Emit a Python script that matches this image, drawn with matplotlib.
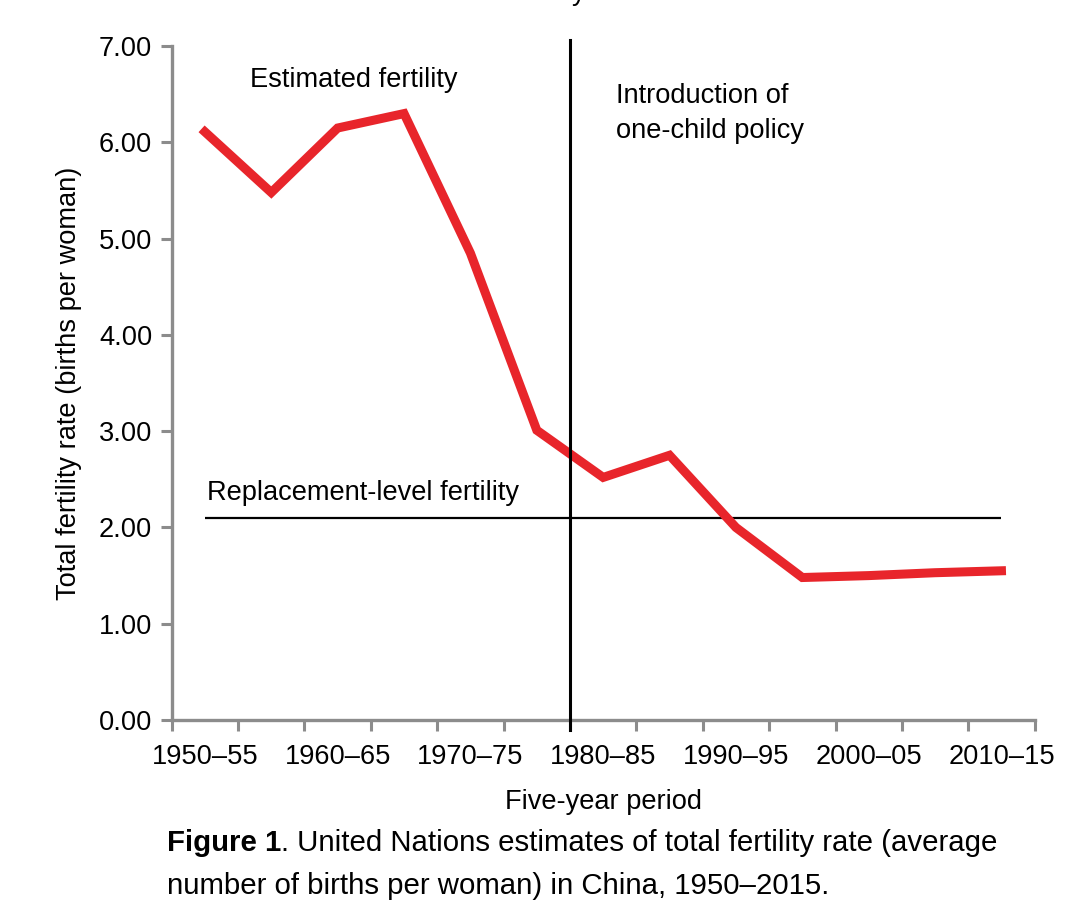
import matplotlib
matplotlib.use("Agg")
import matplotlib.pyplot as plt

plt.rcParams['font.family'] = ['Liberation Sans', 'DejaVu Sans']

# five-year periods and UN total fertility rate estimates
periods = ["1950–55", "1955–60", "1960–65", "1965–70", "1970–75", "1975–80",
           "1980–85", "1985–90", "1990–95", "1995–00", "2000–05", "2005–10", "2010–15"]
tfr = [6.11, 5.48, 6.15, 6.30, 4.85, 3.01, 2.52, 2.75, 2.00, 1.48, 1.50, 1.53, 1.55]
replacement_level = 2.1
policy_period = "1980–85"
yticks = [0, 1, 2, 3, 4, 5, 6, 7]

fs = 19.6

fig = plt.figure(figsize=(10.8, 9.24), dpi=100)
ax = fig.add_axes([0.159, 0.2208, 0.799, 0.7292])

x = list(range(len(periods)))
ax.plot(x, tfr, color="#e8252b", linewidth=6.5, solid_joinstyle="miter", zorder=3)

# replacement level
ax.hlines(replacement_level, x[0], x[-1], color="black", linewidth=1.6, zorder=2)

# one-child policy line (boundary before 1980-85)
xp = periods.index(policy_period) - 0.5
ax.axvline(xp, ymin=-10 / 674, ymax=1 + 6 / 674, color="black", linewidth=2.2,
           clip_on=False, zorder=4)

ax.set_xlim(-0.5, len(periods) - 0.5)
ax.set_ylim(0, 7)

# tick marks on category boundaries, labels every other period
ax.set_xticks([i - 0.5 for i in range(len(periods) + 1)])
ax.set_xticklabels([])
ax.set_xticks(x[::2], minor=True)
ax.set_xticklabels(periods[::2], minor=True)
ax.tick_params(axis="x", which="minor", length=0, pad=17, labelsize=fs)
ax.tick_params(axis="x", which="major", length=8, width=2.2, color="#8c8c8c",
               direction="out")
ax.set_yticks(yticks)
ax.set_yticklabels(["%.2f" % v for v in yticks])
ax.tick_params(axis="y", length=8, width=2.2, color="#8c8c8c", labelsize=fs, pad=6)

for s in ["top", "right"]:
    ax.spines[s].set_visible(False)
for s in ["left", "bottom"]:
    ax.spines[s].set_color("#8c8c8c")
    ax.spines[s].set_linewidth(2.4)

ax.set_xlabel("Five-year period", fontsize=fs, labelpad=14)
ax.set_ylabel("Total fertility rate (births per woman)", fontsize=fs, labelpad=12)

ax.text(0.68, 6.65, "Estimated fertility", fontsize=fs, va="center", ha="left")
ax.text(6.2, 6.3, "Introduction of\none-child policy", fontsize=fs, va="center",
        ha="left", linespacing=1.45)
ax.text(0.03, 2.36, "Replacement-level fertility", fontsize=fs, va="center", ha="left")

# caption
cfs = 21.2
t1 = fig.text(167 / 1080, 1 - 843 / 924, "Figure 1", fontsize=cfs, fontweight="bold",
              va="center", ha="left")
fig.canvas.draw()
bb = t1.get_window_extent()
fig.text(bb.x1 / 1080, 1 - 843 / 924,
         ". United Nations estimates of total fertility rate (average",
         fontsize=cfs, va="center", ha="left")
fig.text(167 / 1080, 1 - 886 / 924,
         "number of births per woman) in China, 1950–2015.",
         fontsize=cfs, va="center", ha="left")

# clipped remnant of a title above the figure
fig.text(572 / 1080, 1.0, "y", fontsize=fs, va="baseline", ha="left")

fig.savefig("out.png", dpi=100, facecolor="white")
